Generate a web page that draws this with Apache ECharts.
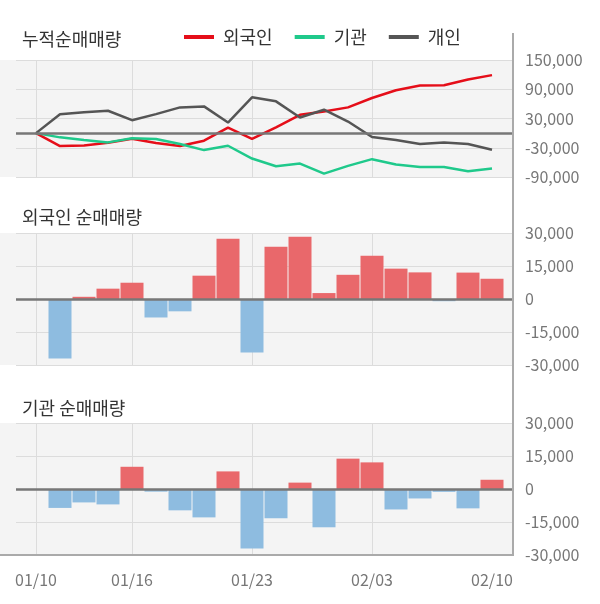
<!DOCTYPE html>
<html>
<head>
<meta charset="utf-8">
<script src="https://cdn.jsdelivr.net/npm/echarts@6/dist/echarts.min.js"></script>
<style>
    html, body {margin: 0; padding: 0; background: #fff;}
    #chart {width: 600px; height: 604px;}
</style>
</head>
<body>
<div id="chart"></div>
<script>
//거래일
var dates = ['01/10', '01/13', '01/14', '01/15', '01/16', '01/17', '01/20', '01/21', '01/22', '01/23',
    '01/28', '01/29', '01/30', '01/31', '02/03', '02/04', '02/05', '02/06', '02/07', '02/10'];
//세로 격자선 / 날짜 라벨 위치
var dateGrid = [0, 4, 9, 14];
var dateLabels = [0, 4, 9, 14, 19];

//누적순매매량
var foreignSum = [0, -26500, -25200, -19700, -11400, -20300, -26500, -15500, 11400, -12000,
    12000, 37600, 44500, 52800, 72000, 88000, 97600, 98300, 110000, 119000];
var instSum = [0, -8700, -14100, -19000, -10700, -12000, -22300, -34800, -25900, -52100,
    -67900, -62500, -83100, -67200, -53400, -64500, -69300, -69300, -78200, -72800];
var personSum = [0, 38900, 43000, 45900, 26500, 38900, 52800, 54800, 21700, 73400,
    65200, 32000, 48000, 23800, -7900, -14100, -22300, -19000, -22300, -34100];

//일별 순매매량 (첫날 막대 없음)
var foreignDaily = [null, -27000, 1000, 4700, 7400, -8400, -5600, 10600, 27400, -24300,
    23800, 28300, 2700, 11000, 19700, 13800, 12100, -1000, 12000, 9200];
var instDaily = [null, -8600, -6100, -7000, 10100, -1200, -9700, -12900, 8000, -27000,
    -13300, 2900, -17400, 13800, 12100, -9300, -4300, -1300, -8800, 4200];

//y축 눈금
var sumTicks = [-90000, -30000, 30000, 90000, 150000];
var dailyTicks = [-30000, -15000, 0, 15000, 30000];

var RED = '#e50e19', GREEN = '#1fc98b', GRAY = '#555555';
var BAR_UP = '#e9686b', BAR_DOWN = '#8ebce0';
var FONT = '"Noto Sans CJK KR", "Noto Sans", sans-serif';

var chart = echarts.init(document.getElementById('chart'));

function toPoints(arr) {
    return arr.map(function (v, i) {
        return [i, v];
    });
}

function fmt(v) {
    return echarts.format.addCommas(v);
}

var grids = [
    {left: 16, right: 88, top: 60, height: 117},
    {left: 16, right: 88, top: 233, height: 132},
    {left: 16, right: 88, top: 423, height: 132}
];
grids.forEach(function (g) {
    g.show = true;
    g.backgroundColor = '#f4f4f4';
    g.borderWidth = 0;
});

function xAxis(idx, labels) {
    return {
        type: 'value',
        gridIndex: idx,
        min: -0.8333,
        max: 19.8333,
        axisLine: {show: false},
        axisTick: {show: false, customValues: dateGrid},
        axisLabel: {
            show: labels,
            customValues: dateLabels,
            margin: 17,
            color: '#777',
            fontSize: 16,
            fontFamily: FONT,
            formatter: function (v) {
                return dates[v];
            }
        },
        splitLine: {show: true, lineStyle: {color: '#dcdcdc', width: 1}}
    };
}

function yAxis(idx, ticks) {
    return {
        type: 'value',
        gridIndex: idx,
        position: 'right',
        min: ticks[0],
        max: ticks[ticks.length - 1],
        axisLine: {show: false},
        axisTick: {show: false, customValues: ticks},
        axisLabel: {
            customValues: ticks,
            margin: 13,
            color: '#777',
            fontSize: 16,
            fontFamily: FONT,
            formatter: fmt
        },
        splitLine: {show: true, lineStyle: {color: '#dcdcdc', width: 1}}
    };
}

//0 기준선
function zeroLine(idx) {
    return {
        type: 'line',
        xAxisIndex: idx,
        yAxisIndex: idx,
        data: [],
        z: 1,
        silent: true,
        markLine: {
            silent: true,
            symbol: 'none',
            label: {show: false},
            lineStyle: {color: '#777', width: 2.5, type: 'solid'},
            data: [{yAxis: 0}]
        }
    };
}

function sumLine(name, arr, color) {
    return {
        name: name,
        type: 'line',
        xAxisIndex: 0,
        yAxisIndex: 0,
        data: toPoints(arr),
        symbol: 'none',
        z: 3,
        lineStyle: {color: color, width: 2.5},
        itemStyle: {color: color}
    };
}

function dailyBar(idx, arr) {
    return {
        type: 'bar',
        xAxisIndex: idx,
        yAxisIndex: idx,
        data: toPoints(arr),
        barWidth: 23,
        z: 2,
        itemStyle: {
            color: function (p) {
                return p.value[1] >= 0 ? BAR_UP : BAR_DOWN;
            }
        }
    };
}

function title(text, top) {
    return {
        text: text,
        left: 17,
        top: top,
        textStyle: {color: '#333', fontSize: 18, fontWeight: 'normal', fontFamily: FONT}
    };
}

var option = {
    animation: false,
    textStyle: {fontFamily: FONT},
    title: [
        title('누적순매매량', 25),
        title('외국인 순매매량', 203),
        title('기관 순매매량', 394)
    ],
    legend: {
        data: ['외국인', '기관', '개인'],
        left: 179,
        top: 23,
        icon: 'rect',
        itemWidth: 30,
        itemHeight: 4,
        itemGap: 22,
        textStyle: {color: '#333', fontSize: 18, fontFamily: FONT, padding: [0, 0, 0, 4]}
    },
    grid: grids,
    xAxis: [xAxis(0, false), xAxis(1, false), xAxis(2, true)],
    yAxis: [yAxis(0, sumTicks), yAxis(1, dailyTicks), yAxis(2, dailyTicks)],
    graphic: [
        //왼쪽 배경 여백
        {type: 'rect', shape: {x: 0, y: 60, width: 16, height: 117}, style: {fill: '#f4f4f4'}, z: -1},
        {type: 'rect', shape: {x: 0, y: 233, width: 16, height: 132}, style: {fill: '#f4f4f4'}, z: -1},
        {type: 'rect', shape: {x: 0, y: 423, width: 16, height: 132}, style: {fill: '#f4f4f4'}, z: -1},
        //오른쪽 축선, 아래 축선
        {type: 'line', shape: {x1: 513, y1: 33, x2: 513, y2: 556}, style: {stroke: '#aaa', lineWidth: 2}, z: 10},
        {type: 'line', shape: {x1: 0, y1: 555, x2: 514, y2: 555}, style: {stroke: '#aaa', lineWidth: 2}, z: 10}
    ],
    series: [
        zeroLine(0),
        zeroLine(1),
        zeroLine(2),
        sumLine('외국인', foreignSum, RED),
        sumLine('기관', instSum, GREEN),
        sumLine('개인', personSum, GRAY),
        dailyBar(1, foreignDaily),
        dailyBar(2, instDaily)
    ]
};

chart.setOption(option);
</script>
</body>
</html>
